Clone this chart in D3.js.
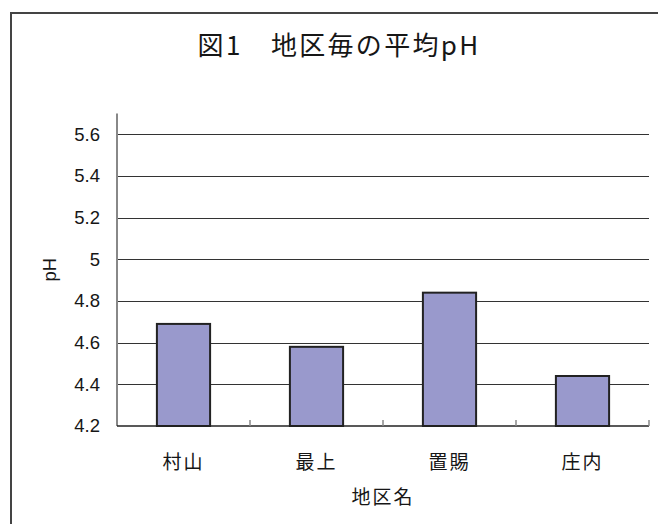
<!DOCTYPE html>
<html>
<head>
<meta charset="utf-8">
<script src="https://cdn.jsdelivr.net/npm/d3@7"></script>
<style>
  html, body { margin: 0; padding: 0; background: #fff; }
  svg { display: block; }
</style>
</head>
<body>
<svg id="chart" width="658" height="524"></svg>
<script>
// Average pH by district
const categories = ["村山", "最上", "置賜", "庄内"];
const phValues = [4.69, 4.58, 4.84, 4.44];
const yTicks = [4.2, 4.4, 4.6, 4.8, 5.0, 5.2, 5.4, 5.6];
const yTickLabels = ["4.2", "4.4", "4.6", "4.8", "5", "5.2", "5.4", "5.6"];

const titleText = "図1\u3000地区毎の平均pH";
const xTitle = "地区名";
const yTitle = "pH";

const cjk = "'Noto Sans CJK JP', 'Noto Sans', sans-serif";
const latin = "'Liberation Sans', Arial, sans-serif";
const ink = "#161616";

const svg = d3.select("#chart");

// chart frame (runs off the right and bottom edges)
svg.append("rect")
  .attr("x", 11).attr("y", 13)
  .attr("width", 700).attr("height", 600)
  .attr("fill", "#fff")
  .attr("stroke", "#444")
  .attr("stroke-width", 2);

const plot = { left: 117, right: 649, top: 113.5, bottom: 426 };

const x = d3.scaleBand()
  .domain(categories)
  .range([plot.left, plot.right])
  .paddingInner(0.6)
  .paddingOuter(0.3);

const y = d3.scaleLinear()
  .domain([4.2, 5.7])
  .range([plot.bottom, plot.top]);

// horizontal gridlines
svg.append("g")
  .selectAll("line")
  .data(yTicks.slice(1))
  .join("line")
  .attr("x1", plot.left).attr("x2", plot.right)
  .attr("y1", d => Math.round(y(d)) + 0.5)
  .attr("y2", d => Math.round(y(d)) + 0.5)
  .attr("stroke", "#333")
  .attr("stroke-width", 1.2);

// bars
svg.append("g")
  .selectAll("rect")
  .data(phValues)
  .join("rect")
  .attr("x", (d, i) => x(categories[i]))
  .attr("y", d => y(d))
  .attr("width", x.bandwidth())
  .attr("height", d => y(4.2) - y(d))
  .attr("fill", "#9999cc")
  .attr("stroke", "#222")
  .attr("stroke-width", 2);

// y axis
const yAxis = d3.axisLeft(y)
  .tickValues(yTicks)
  .tickSize(0)
  .tickPadding(17)
  .tickFormat((d, i) => yTickLabels[i]);

const gy = svg.append("g")
  .attr("transform", `translate(${plot.left},0)`)
  .call(yAxis);
gy.select(".domain").remove();
gy.selectAll("text")
  .attr("font-family", latin)
  .attr("font-size", 18.5)
  .attr("fill", ink);

svg.append("line")
  .attr("x1", plot.left).attr("x2", plot.left)
  .attr("y1", plot.top).attr("y2", plot.bottom)
  .attr("stroke", "#888")
  .attr("stroke-width", 2);

// x axis
svg.append("line")
  .attr("x1", plot.left).attr("x2", plot.right)
  .attr("y1", plot.bottom).attr("y2", plot.bottom)
  .attr("stroke", "#222")
  .attr("stroke-width", 1.5);

// category boundary ticks (pointing inward)
const step = x.step();
svg.append("g")
  .selectAll("line")
  .data(categories)
  .join("line")
  .attr("x1", c => x(c) + x.bandwidth() / 2 + step / 2)
  .attr("x2", c => x(c) + x.bandwidth() / 2 + step / 2)
  .attr("y1", plot.bottom - 6)
  .attr("y2", plot.bottom)
  .attr("stroke", "#888")
  .attr("stroke-width", 1.5);

// category labels
svg.append("g")
  .selectAll("text")
  .data(categories)
  .join("text")
  .attr("x", c => x(c) + x.bandwidth() / 2)
  .attr("y", 462)
  .attr("dy", "0.35em")
  .attr("text-anchor", "middle")
  .attr("font-family", cjk)
  .attr("font-size", 19)
  .attr("letter-spacing", 2)
  .attr("fill", ink)
  .text(c => c);

// axis titles
svg.append("text")
  .attr("x", (plot.left + plot.right) / 2)
  .attr("y", 497)
  .attr("dy", "0.35em")
  .attr("text-anchor", "middle")
  .attr("font-family", cjk)
  .attr("font-size", 19)
  .attr("letter-spacing", 2)
  .attr("fill", ink)
  .text(xTitle);

svg.append("text")
  .attr("transform", `translate(50,${(plot.top + plot.bottom) / 2}) rotate(-90)`)
  .attr("dy", "0.35em")
  .attr("text-anchor", "middle")
  .attr("font-family", latin)
  .attr("font-size", 18.5)
  .attr("fill", ink)
  .text(yTitle);

// chart title
svg.append("text")
  .attr("x", 339)
  .attr("y", 46)
  .attr("dy", "0.35em")
  .attr("text-anchor", "middle")
  .attr("font-family", cjk)
  .attr("font-size", 26)
  .attr("letter-spacing", 2.3)
  .attr("fill", ink)
  .text(titleText);
</script>
</body>
</html>
